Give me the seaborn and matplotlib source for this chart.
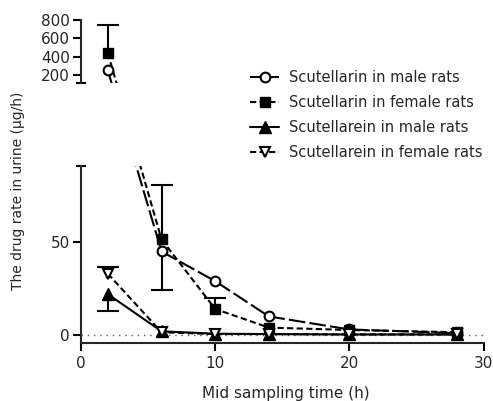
import matplotlib
matplotlib.use("Agg")
import matplotlib.pyplot as plt
import numpy as np
import pandas as pd
import seaborn as sns

# ---------------- data ----------------
time_h = [2, 6, 10, 14, 20, 28]
scutellarin_male = [250, 45, 29, 10, 3, 1]
scutellarin_female = [440, 51.5, 14, 4, 2.7, 1.5]
scutellarein_male = [22, 2, 0.7, 0.5, 0.3, 0.3]
scutellarein_female = [33, 1.5, 0.5, 0.5, 0.3, 0.3]

scutellarin_male_err_low = [0, 21, 0, 0, 0, 0]
scutellarin_male_err_up = [0, 0, 0, 0, 0, 0]
scutellarin_female_err_low = [0, 0, 0, 0, 0, 0]
scutellarin_female_err_up = [310, 29.5, 6, 0, 0, 0]
scutellarein_male_err_low = [9, 0, 0, 0, 0, 0]
scutellarein_male_err_up = [0, 0, 0, 0, 0, 0]
scutellarein_female_err_low = [0, 0, 0, 0, 0, 0]
scutellarein_female_err_up = [3.5, 0, 0, 0, 0, 0]

series_labels = ["Scutellarin in male rats", "Scutellarin in female rats",
                 "Scutellarein in male rats", "Scutellarein in female rats"]
x_ticks = [0, 10, 20, 30]
y_ticks_low = [0, 50]
y_ticks_high = [200, 400, 600, 800]
x_label = "Mid sampling time (h)"
y_label = "The drug rate in urine (\u03bcg/h)"

# ---------------- style ----------------
sns.set_style("ticks")
plt.rcParams["font.family"] = ["DejaVu Sans"]

LOW_LIM = (-4.3, 91)
HIGH_LIM = (113, 800)
X_LIM = (0, 30.7)

fig = plt.figure(figsize=(4.93, 4.01), dpi=100)
ax_bot = fig.add_axes([81 / 493, 58 / 401, 412 / 493, 177 / 401])
ax_top = fig.add_axes([81 / 493, 318 / 401, 412 / 493, 63 / 401])
ax_top.patch.set_visible(False)
ax_bot.patch.set_visible(False)
for ax in (ax_bot, ax_top):
    ax.set_xlim(*X_LIM)
ax_bot.set_ylim(*LOW_LIM)
ax_top.set_ylim(*HIGH_LIM)

styles = [
    dict(marker="o", ms=7, mfc="white", mec="black", mew=1.5, ls=(0, (8, 2)), lw=1.5),
    dict(marker="s", ms=6.5, mfc="black", mec="black", mew=1, ls=(0, (3, 1.6)), lw=1.5),
    dict(marker="^", ms=8, mfc="black", mec="black", mew=1, ls="-", lw=1.5),
    dict(marker="v", ms=7.5, mfc="white", mec="black", mew=1.5, ls=(0, (3, 1.6)), lw=1.5),
]
series = [scutellarin_male, scutellarin_female, scutellarein_male, scutellarein_female]
errs = [
    (scutellarin_male_err_low, scutellarin_male_err_up),
    (scutellarin_female_err_low, scutellarin_female_err_up),
    (scutellarein_male_err_low, scutellarein_male_err_up),
    (scutellarein_female_err_low, scutellarein_female_err_up),
]

handles = []
for yv, st, lab, (elo, eup) in zip(series, styles, series_labels, errs):
    x = np.asarray(time_h, float)
    y = np.asarray(yv, float)
    top = y > LOW_LIM[1]
    line_kw = dict(color="black", ls=st["ls"], lw=st["lw"])

    # error bars (one sided, as in the original)
    for xi, yi, lo, up, is_top in zip(x, y, elo, eup, top):
        ax = ax_top if is_top else ax_bot
        for e, keep in ((lo, 0), (up, 1)):
            if e > 0:
                yerr = [[e], [0]] if keep == 0 else [[0], [e]]
                _, caps, _ = ax.errorbar([xi], [yi], yerr=yerr, fmt="none",
                                         ecolor="black", elinewidth=1.5,
                                         capsize=8, capthick=1.5, zorder=2)
                caps[1 - keep].set_visible(False)

    # points in bottom segment
    df_b = pd.DataFrame({"t": x[~top], "v": y[~top]})
    sns.lineplot(data=df_b, x="t", y="v", ax=ax_bot, color="black",
                 marker=st["marker"], markersize=st["ms"], markerfacecolor=st["mfc"],
                 markeredgecolor=st["mec"], markeredgewidth=st["mew"],
                 linestyle=st["ls"], linewidth=st["lw"], label=lab, zorder=3)
    handles.append(ax_bot.get_lines()[-1])

    # points in top segment
    if top.any():
        df_t = pd.DataFrame({"t": x[top], "v": y[top]})
        sns.lineplot(data=df_t, x="t", y="v", ax=ax_top, color="black",
                     marker=st["marker"], markersize=st["ms"], markerfacecolor=st["mfc"],
                     markeredgecolor=st["mec"], markeredgewidth=st["mew"],
                     linestyle=st["ls"], linewidth=st["lw"], zorder=3)
        if ax_top.get_legend():
            ax_top.get_legend().remove()

    # segments crossing the axis break, drawn straight in screen space
    for i in range(len(x) - 1):
        if top[i] != top[i + 1]:
            a0 = ax_top if top[i] else ax_bot
            a1 = ax_top if top[i + 1] else ax_bot
            d0 = a0.transData.transform((x[i], y[i]))
            d1 = a1.transData.transform((x[i + 1], y[i + 1]))
            for ax in (ax_top, ax_bot):
                p = ax.transData.inverted().transform(np.vstack([d0, d1]))
                ax.plot(p[:, 0], p[:, 1], zorder=2.5, **line_kw)

if ax_bot.get_legend():
    ax_bot.get_legend().remove()

# zero reference line
ax_bot.hlines(0, x_ticks[0], x_ticks[-1], colors="0.35", linestyles=(0, (1, 3.5)), lw=1, zorder=1)

# axes cosmetics
for ax in (ax_bot, ax_top):
    ax.set_xlabel("")
    ax.set_ylabel("")
    for s in ("top", "right"):
        ax.spines[s].set_visible(False)
    for s in ("left", "bottom"):
        ax.spines[s].set_linewidth(1.5)
    ax.tick_params(width=1.5, length=6, labelsize=11, pad=2, color="black")

ax_bot.set_xticks(x_ticks)
ax_bot.set_yticks(y_ticks_low)
ax_bot.spines["bottom"].set_bounds(x_ticks[0], x_ticks[-1])
ax_bot.tick_params(axis="x", pad=3)

ax_top.spines["bottom"].set_visible(False)
ax_top.set_xticks([])
ax_top.set_yticks(y_ticks_high)

# break caps at the ends of the split y axis
for ax, yy in ((ax_bot, 1), (ax_top, 0)):
    ax.plot([-0.011, 0.011], [yy, yy], transform=ax.transAxes, color="black",
            lw=1.5, clip_on=False, solid_capstyle="butt")

fig.text(18 / 493, 1 - 190.5 / 401, y_label, rotation=90, ha="center", va="center", fontsize=10)
fig.text(286 / 493, 0.008, x_label, ha="center", va="baseline", fontsize=11)

fig.legend(handles, series_labels, loc="upper left", bbox_to_anchor=(0.507, 0.825),
           bbox_transform=fig.transFigure, frameon=False, fontsize=10.5,
           handlelength=2.0, handletextpad=0.7, labelspacing=0.69,
           borderpad=0, borderaxespad=0)

fig.savefig("out.png", dpi=100)
